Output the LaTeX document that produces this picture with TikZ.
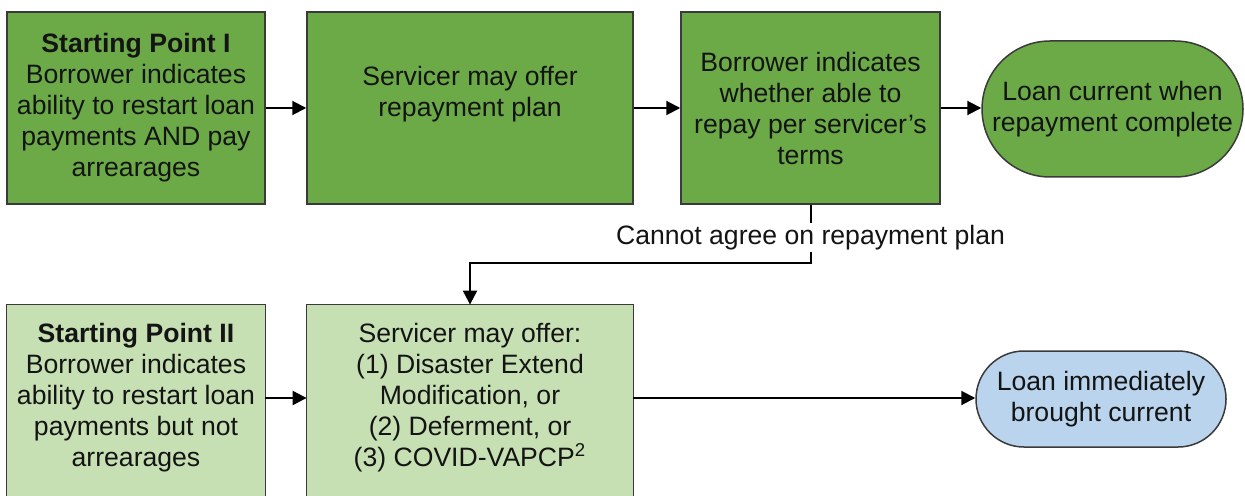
\documentclass[tikz,border=0pt]{standalone}
\usepackage{fontspec}
\setmainfont{Liberation Sans}
\usetikzlibrary{arrows.meta,shapes.misc}
\definecolor{dgreen}{HTML}{6BAA47}
\definecolor{lgreen}{HTML}{C6E0B4}
\definecolor{lblue}{HTML}{B9D4EC}
\definecolor{edgec}{HTML}{3A3A3A}
\definecolor{txt}{HTML}{141414}
\tikzset{
  base/.style={align=center, text=txt, inner sep=2pt,
    font=\fontsize{13.3pt}{15.5pt}\selectfont},
  darkbox/.style={base, rectangle, draw=edgec, line width=0.75pt, fill=dgreen},
  openbox/.style={base, rectangle, fill=lgreen},
  oval/.style={base, rounded rectangle, draw=edgec, line width=0.75pt},
  arr/.style={line width=1pt, draw=black, -{Triangle[length=7pt,width=7pt]}},
  lab/.style={base, fill=white, inner sep=1pt},
  border/.style={draw=edgec, line width=0.75pt}
}
\begin{document}
\begin{tikzpicture}[x=0.5pt,y=-0.5pt]
\clip (0,0) rectangle (1245,496);
\useasboundingbox (0,0) rectangle (1245,496);
\fill[white] (0,0) rectangle (1245,496);

% top row
\node[darkbox, minimum width=129pt, minimum height=96pt] (b1) at (136,108)
  {\textbf{Starting Point I}\\Borrower indicates\\ability to restart loan\\payments AND pay\\arrearages};
\node[darkbox, minimum width=163pt, minimum height=96pt] (b2) at (470,108)
  {};
\node[base] (b2t) at (470,94) {Servicer may offer\\repayment plan};
\node[darkbox, minimum width=129.5pt, minimum height=96pt] (b3) at (810.5,108)
  {Borrower indicates\\whether able to\\repay per servicer's\\terms};
\node[oval, fill=dgreen, minimum width=129.5pt, minimum height=68pt] (o1) at (1112.5,109)
  {Loan current when\\repayment complete};

% bottom row (boxes run past the lower edge)
\node[openbox, minimum width=129pt, minimum height=93pt] (b4) at (136,398)
  {\textbf{Starting Point II}\\Borrower indicates\\ability to restart loan\\payments but not\\arrearages};
\fill[lgreen] (b4.south west) rectangle ([yshift=-10pt]b4.south east);
\draw[border] ([yshift=-10pt]b4.south west) |- (b4.north east) -- ([yshift=-10pt]b4.south east);

\node[openbox, minimum width=163pt, minimum height=93pt] (b5) at (470,398)
  {Servicer may offer:\\(1) Disaster Extend\\Modification, or\\(2) Deferment, or\\(3) COVID-VAPCP\textsuperscript{2}};
\fill[lgreen] (b5.south west) rectangle ([yshift=-10pt]b5.south east);
\draw[border] ([yshift=-10pt]b5.south west) |- (b5.north east) -- ([yshift=-10pt]b5.south east);

\node[oval, fill=lblue, minimum width=129pt, minimum height=48pt] (o2) at (1101,399)
  {Loan immediately\\brought current};

% connectors
\draw[arr] (b1) -- (b2);
\draw[arr] (b2) -- (b3);
\draw[arr] (b3) -- (b3 -| o1.west);
\draw[arr] (b3.south) -- node[lab, pos=0.57] (lbl) {Cannot agree on repayment plan} ++(0,58) -| (b5.north);
\draw[arr] (b4) -- (b5);
\draw[arr] (b5) -- (b5 -| o2.west);
\end{tikzpicture}
\end{document}
